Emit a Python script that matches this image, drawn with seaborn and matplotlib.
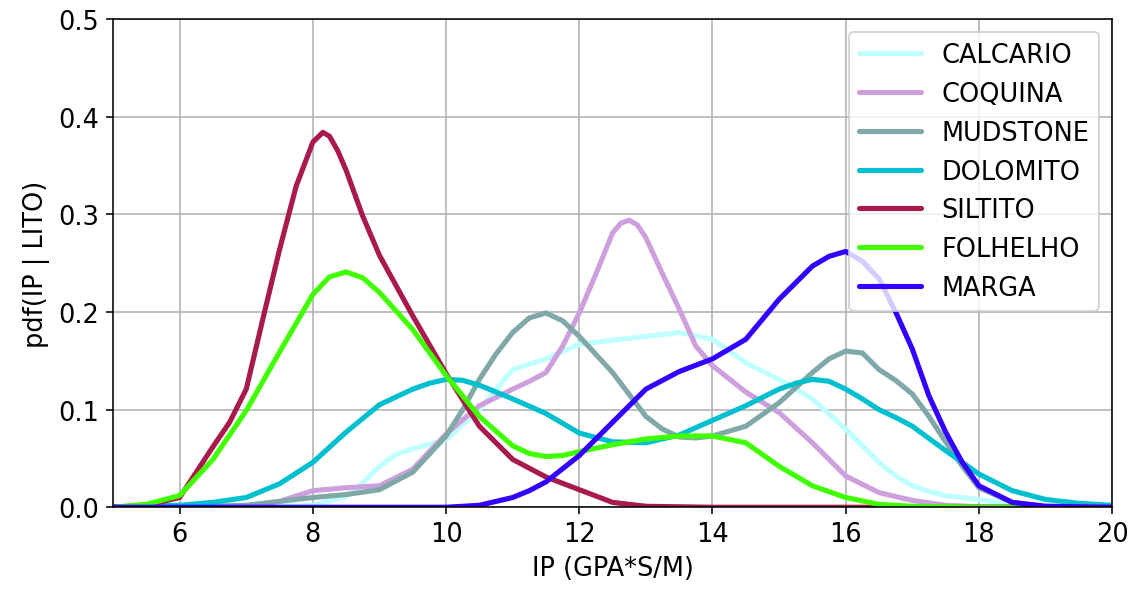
import matplotlib
matplotlib.use("Agg")
import matplotlib.pyplot as plt
import seaborn as sb
import pandas as pd

# Curves (IP value, pdf value) for each lithology
calcario_x = [5, 6, 7, 7.5, 8, 8.5, 8.75, 9, 9.25, 9.5, 10, 10.5, 10.75, 11, 11.5, 12, 12.5, 13, 13.5, 14, 14.5, 15, 15.5, 16, 16.5, 16.75, 17, 17.25, 17.5, 18, 18.5, 19, 20]
calcario_y = [0, 0, 0.0005, 0.001, 0.002, 0.011, 0.025, 0.042, 0.054, 0.060, 0.069, 0.100, 0.121, 0.141, 0.152, 0.167, 0.171, 0.175, 0.179, 0.172, 0.148, 0.131, 0.111, 0.080, 0.046, 0.032, 0.022, 0.016, 0.012, 0.008, 0.003, 0.001, 0]

coquina_x = [5, 6.5, 7, 7.5, 8, 8.5, 9, 9.5, 10, 10.5, 11, 11.25, 11.5, 11.75, 12, 12.25, 12.5, 12.625, 12.75, 12.875, 13, 13.25, 13.5, 13.75, 14, 14.5, 15, 15.5, 16, 16.5, 17, 17.5, 18, 20]
coquina_y = [0, 0, 0.001, 0.006, 0.017, 0.020, 0.022, 0.039, 0.075, 0.104, 0.121, 0.129, 0.138, 0.165, 0.199, 0.239, 0.281, 0.291, 0.294, 0.289, 0.276, 0.239, 0.203, 0.165, 0.145, 0.118, 0.097, 0.066, 0.032, 0.015, 0.007, 0.002, 0.0005, 0]

mudstone_x = [5, 6, 7, 7.5, 8, 8.5, 9, 9.5, 10, 10.25, 10.5, 10.75, 11, 11.25, 11.5, 11.75, 12, 12.5, 13, 13.25, 13.5, 13.75, 14, 14.5, 15, 15.5, 15.75, 16, 16.25, 16.5, 16.75, 17, 17.25, 17.5, 17.75, 18, 18.5, 19, 20]
mudstone_y = [0, 0.0005, 0.002, 0.006, 0.010, 0.013, 0.018, 0.036, 0.073, 0.100, 0.131, 0.157, 0.179, 0.194, 0.199, 0.191, 0.175, 0.138, 0.093, 0.080, 0.072, 0.071, 0.073, 0.083, 0.107, 0.138, 0.152, 0.160, 0.158, 0.141, 0.130, 0.116, 0.093, 0.067, 0.042, 0.020, 0.005, 0.001, 0]

dolomito_x = [5, 6, 6.5, 7, 7.5, 8, 8.5, 9, 9.5, 9.75, 10, 10.25, 10.5, 11, 11.5, 12, 12.5, 13, 13.5, 14, 14.5, 15, 15.25, 15.5, 15.75, 16, 16.25, 16.5, 16.75, 17, 17.5, 18, 18.5, 19, 19.5, 20]
dolomito_y = [0.0005, 0.002, 0.005, 0.010, 0.024, 0.046, 0.077, 0.105, 0.121, 0.127, 0.131, 0.130, 0.125, 0.111, 0.096, 0.076, 0.067, 0.066, 0.074, 0.089, 0.104, 0.121, 0.127, 0.131, 0.129, 0.121, 0.111, 0.100, 0.092, 0.083, 0.058, 0.034, 0.017, 0.008, 0.004, 0.002]

siltito_x = [5, 5.5, 6, 6.25, 6.5, 6.75, 7, 7.25, 7.5, 7.75, 8, 8.15, 8.25, 8.375, 8.5, 8.75, 9, 9.5, 10, 10.5, 11, 11.5, 12, 12.5, 13, 14, 20]
siltito_y = [0, 0.002, 0.010, 0.036, 0.062, 0.087, 0.121, 0.193, 0.264, 0.329, 0.374, 0.384, 0.380, 0.365, 0.345, 0.298, 0.258, 0.196, 0.137, 0.083, 0.049, 0.031, 0.018, 0.005, 0.001, 0, 0]

folhelho_x = [5, 5.5, 6, 6.5, 7, 7.5, 8, 8.25, 8.5, 8.75, 9, 9.5, 10, 10.5, 11, 11.25, 11.5, 11.75, 12, 12.5, 13, 13.5, 14, 14.5, 15, 15.5, 16, 16.5, 17, 18, 20]
folhelho_y = [0, 0.003, 0.012, 0.049, 0.099, 0.159, 0.218, 0.236, 0.241, 0.235, 0.220, 0.182, 0.135, 0.093, 0.063, 0.055, 0.052, 0.053, 0.057, 0.064, 0.070, 0.073, 0.073, 0.066, 0.042, 0.022, 0.010, 0.003, 0.001, 0, 0]

marga_x = [5, 10, 10.5, 11, 11.25, 11.5, 12, 12.5, 13, 13.5, 14, 14.5, 15, 15.5, 15.75, 16, 16.25, 16.5, 16.75, 17, 17.25, 17.5, 17.75, 18, 18.5, 19, 20]
marga_y = [0, 0, 0.002, 0.010, 0.017, 0.026, 0.053, 0.087, 0.121, 0.139, 0.152, 0.172, 0.213, 0.247, 0.257, 0.262, 0.252, 0.234, 0.200, 0.162, 0.114, 0.077, 0.046, 0.022, 0.005, 0.001, 0]

litho_names = ["CALCARIO", "COQUINA", "MUDSTONE", "DOLOMITO", "SILTITO", "FOLHELHO", "MARGA"]
litho_colors = ["#c0ffff", "#cda0dd", "#80a8a8", "#00bfcf", "#a8194d", "#40ff00", "#3300ff"]

curves = [(calcario_x, calcario_y), (coquina_x, coquina_y), (mudstone_x, mudstone_y),
          (dolomito_x, dolomito_y), (siltito_x, siltito_y), (folhelho_x, folhelho_y),
          (marga_x, marga_y)]

plt.rcParams['font.size'] = 13

fig, ax = plt.subplots(figsize=(1136 / 142, 591 / 142), dpi=142)
fig.subplots_adjust(left=0.0995, right=0.979, top=0.966, bottom=0.140)

for name, color, (xs, ys) in zip(litho_names, litho_colors, curves):
    df = pd.DataFrame({"IP": xs, "pdf": ys})
    sb.lineplot(data=df, x="IP", y="pdf", color=color, lw=2.6, label=name, ax=ax,
                solid_joinstyle="round", solid_capstyle="round")

ax.set_xlim(5, 20)
ax.set_ylim(0, 0.5)
ax.set_xticks([6, 8, 10, 12, 14, 16, 18, 20])
ax.set_yticks([0.0, 0.1, 0.2, 0.3, 0.4, 0.5])
ax.set_yticklabels(["0.0", "0.1", "0.2", "0.3", "0.4", "0.5"])
ax.grid(True, color="#b0b0b0", lw=0.8)
ax.set_axisbelow(True)
ax.set_xlabel("IP (GPA*S/M)")
ax.set_ylabel("pdf(IP | LITO)")
ax.legend(loc="upper right", fontsize=13, handlelength=2.4)

fig.savefig("out.png", dpi=142)
